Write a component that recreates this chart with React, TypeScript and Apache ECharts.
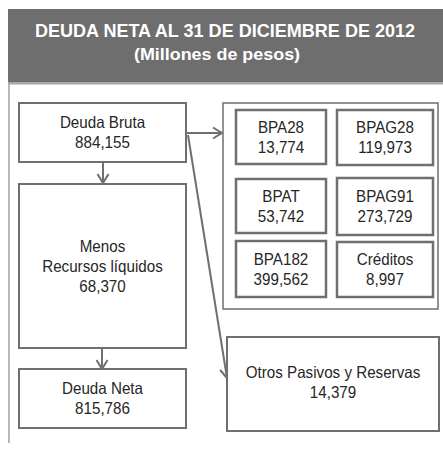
import React, { useEffect, useRef } from "react";
import * as echarts from "echarts";

// ---- data ----
const titleText = "DEUDA NETA AL 31 DE DICIEMBRE DE 2012";
const subtitleText = "(Millones de pesos)";
const leftLabels = ["Deuda Bruta", "Menos\nRecursos líquidos", "Deuda Neta"];
const leftValues = [884155, 68370, 815786];
const instrumentLabels = ["BPA28", "BPAG28", "BPAT", "BPAG91", "BPA182", "Créditos"];
const instrumentValues = [13774, 119973, 53742, 273729, 399562, 8997];
const otherLabel = "Otros Pasivos y Reservas";
const otherValue = 14379;

// ---- layout (page px) ----
const leftBoxes = [
  [19, 103, 167, 59],
  [19, 184, 167, 164],
  [19, 369, 167, 59],
];
const instrumentBoxes = [
  [236, 110, 90, 54],
  [337, 110, 96, 55],
  [236, 179, 90, 54],
  [337, 178, 96, 57],
  [236, 241, 90, 56],
  [337, 242, 96, 55],
];
const outerBox = [223, 103, 215, 206];
const otherBox = [227, 337, 212, 94];

const FONT = "'Liberation Sans', Arial, sans-serif";
const LINE = "#6f6f6f";
const fmt = (v: number) => v.toLocaleString("en-US");

function box(b: number[], lw = 2): any {
  return {
    type: "rect",
    shape: { x: b[0], y: b[1], width: b[2], height: b[3] },
    style: { fill: "#fff", stroke: LINE, lineWidth: lw },
  };
}
function label(b: number[], text: string, dy = 0): any {
  return {
    type: "text",
    x: b[0] + b[2] / 2,
    y: b[1] + b[3] / 2 + dy,
    scaleX: 0.92,
    style: {
      text,
      align: "center",
      verticalAlign: "middle",
      fontSize: 16.5,
      fontFamily: FONT,
      fill: "#262626",
      lineHeight: 20,
    },
  };
}
function arrow(x1: number, y1: number, x2: number, y2: number): any[] {
  const dx = x2 - x1, dy = y2 - y1;
  const len = Math.sqrt(dx * dx + dy * dy);
  const ux = dx / len, uy = dy / len;
  const nx = -uy, ny = ux;
  const hl = 9, hw = 5.5;
  const bx = x2 - ux * hl, by = y2 - uy * hl;
  return [
    { type: "line", shape: { x1, y1, x2, y2 }, style: { stroke: LINE, lineWidth: 2 } },
    {
      type: "polyline",
      shape: { points: [[bx + nx * hw, by + ny * hw], [x2, y2], [bx - nx * hw, by - ny * hw]] },
      style: { stroke: LINE, lineWidth: 2, fill: "none" },
    },
  ];
}

export default function App() {
  const ref = useRef<HTMLDivElement>(null);
  useEffect(() => {
    const chart = echarts.init(ref.current!, undefined, { renderer: "svg" });
    const els: any[] = [];
    // title bar
    els.push({ type: "rect", shape: { x: 8, y: 9, width: 435, height: 73 }, style: { fill: "#6e6e6e" } });
    els.push({ type: "rect", shape: { x: 8, y: 82, width: 435, height: 2.5 }, style: { fill: "#a8a8a8" } });
    els.push({ type: "line", shape: { x1: 9, y1: 84, x2: 9, y2: 443 }, style: { stroke: "#a0a0a0", lineWidth: 1.5 } });
    els.push({
      type: "text", x: 225, y: 30, scaleX: 0.95,
      style: { text: titleText, align: "center", verticalAlign: "middle", fontSize: 19, fontWeight: "bold", fontFamily: FONT, fill: "#fff" },
    });
    els.push({
      type: "text", x: 217, y: 55, scaleX: 1.12,
      style: { text: subtitleText, align: "center", verticalAlign: "middle", fontSize: 16, fontWeight: "bold", fontFamily: FONT, fill: "#fff" },
    });
    // arrows
    els.push(...arrow(103, 162, 103, 183));
    els.push(...arrow(102, 348, 102, 369));
    els.push(...arrow(186, 133, 222, 133));
    els.push(...arrow(188, 135, 227, 378));
    // left column
    leftBoxes.forEach((b, i) => {
      els.push(box(b));
      els.push(label(b, leftLabels[i] + "\n" + fmt(leftValues[i])));
    });
    // right group
    els.push(box(outerBox, 1.5));
    instrumentBoxes.forEach((b, i) => {
      els.push(box(b, 2.5));
      els.push(label(b, instrumentLabels[i] + "\n" + fmt(instrumentValues[i])));
    });
    els.push(box(otherBox));
    els.push(label(otherBox, otherLabel + "\n" + fmt(otherValue), -2));

    chart.setOption({ animation: false, graphic: { elements: els } });
    return () => chart.dispose();
  }, []);
  return (
    <div
      ref={ref}
      style={{ position: "fixed", left: 0, top: 0, width: 443, height: 453, background: "#fff" }}
    />
  );
}
